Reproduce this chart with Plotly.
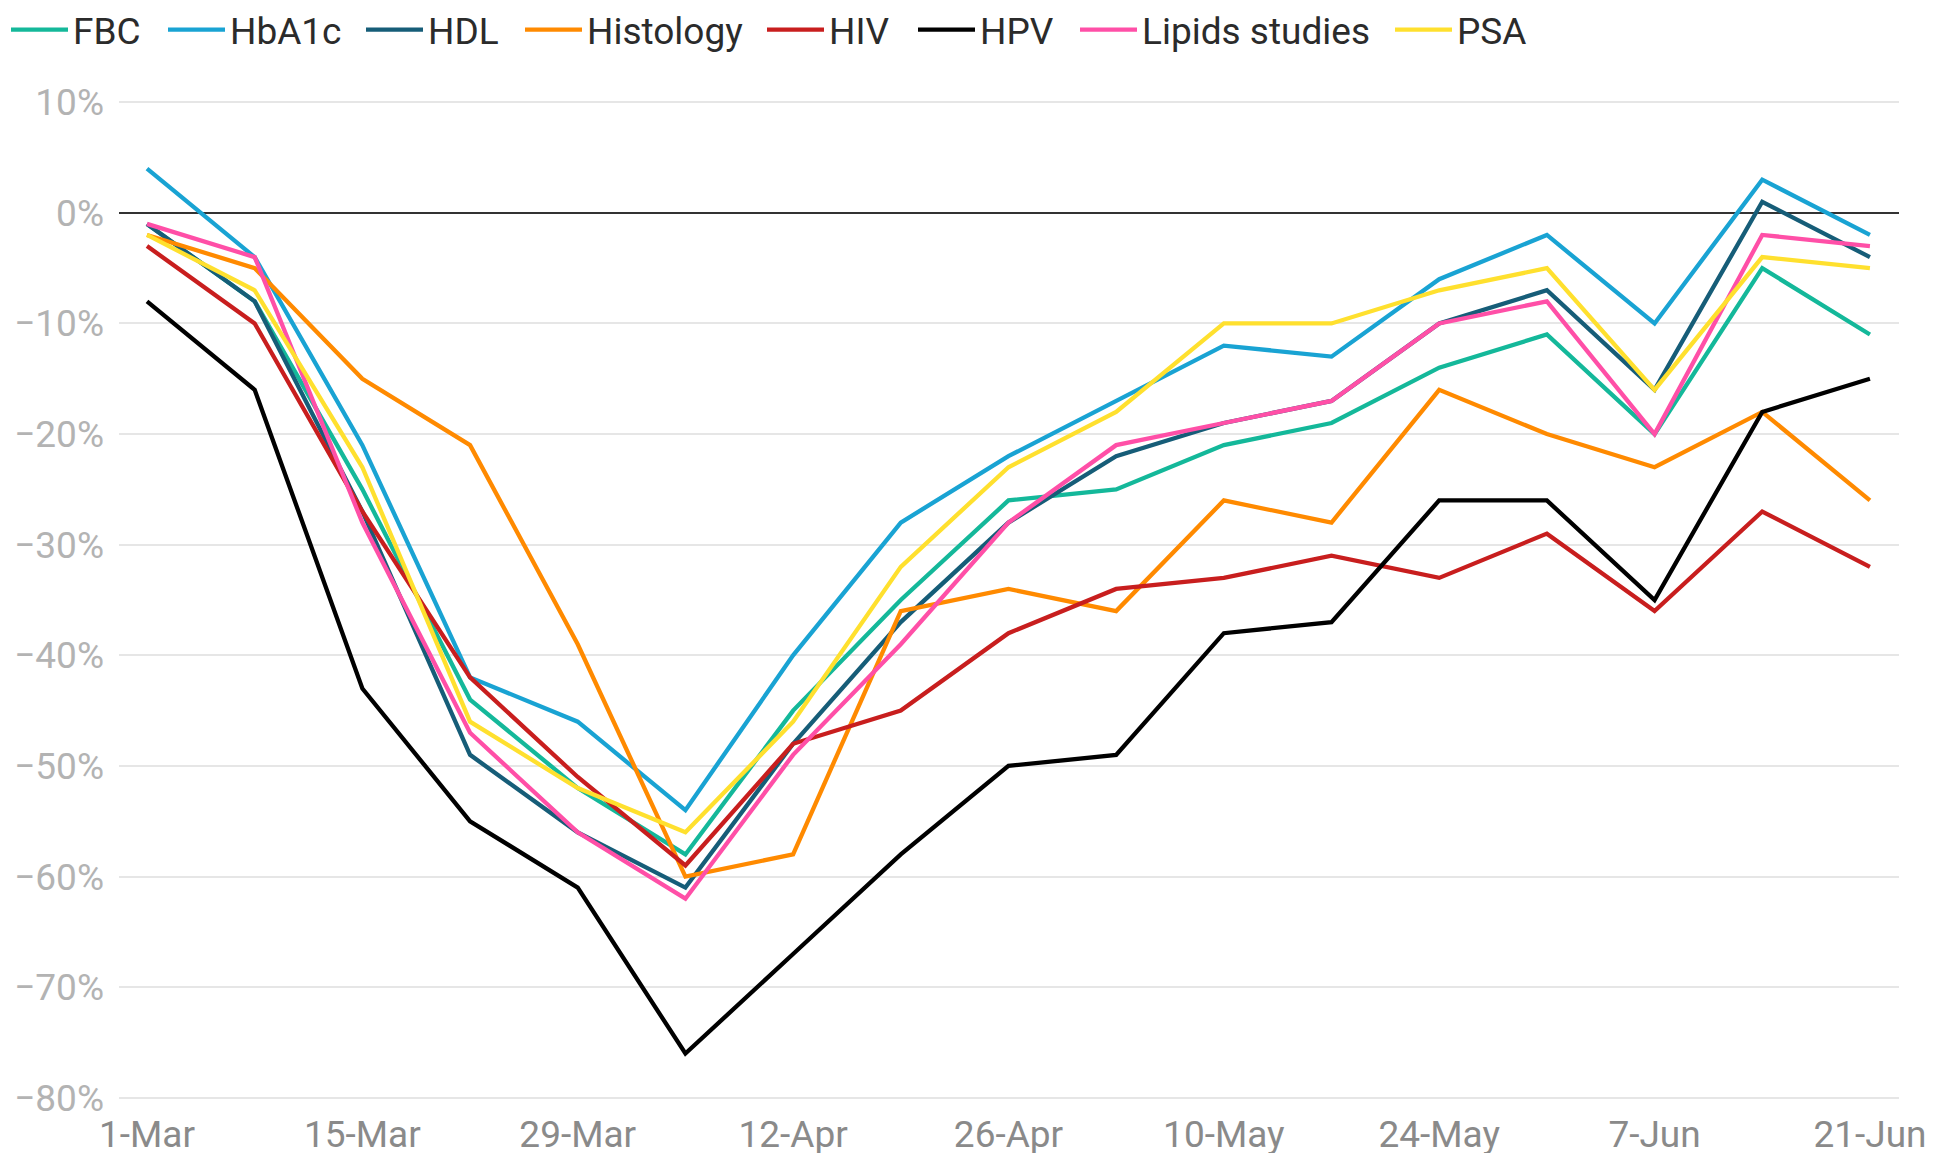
import plotly.graph_objects as go

weeks = list(range(17))
x_tick_vals = [0, 2, 4, 6, 8, 10, 12, 14, 16]
x_tick_text = ["1-Mar", "15-Mar", "29-Mar", "12-Apr", "26-Apr", "10-May", "24-May", "7-Jun", "21-Jun"]
y_tick_vals = [10, 0, -10, -20, -30, -40, -50, -60, -70, -80]
y_tick_text = ["10%", "0%", "−10%", "−20%", "−30%", "−40%", "−50%", "−60%", "−70%", "−80%"]

fbc = [-1, -8, -25, -44, -52, -58, -45, -35, -26, -25, -21, -19, -14, -11, -20, -5, -11]
hba1c = [4, -4, -21, -42, -46, -54, -40, -28, -22, -17, -12, -13, -6, -2, -10, 3, -2]
hdl = [-1, -8, -27, -49, -56, -61, -48, -37, -28, -22, -19, -17, -10, -7, -16, 1, -4]
histology = [-2, -5, -15, -21, -39, -60, -58, -36, -34, -36, -26, -28, -16, -20, -23, -18, -26]
hiv = [-3, -10, -27, -42, -51, -59, -48, -45, -38, -34, -33, -31, -33, -29, -36, -27, -32]
hpv = [-8, -16, -43, -55, -61, -76, -67, -58, -50, -49, -38, -37, -26, -26, -35, -18, -15]
lipids = [-1, -4, -28, -47, -56, -62, -49, -39, -28, -21, -19, -17, -10, -8, -20, -2, -3]
psa = [-2, -7, -23, -46, -52, -56, -46, -32, -23, -18, -10, -10, -7, -5, -16, -4, -5]

series = [
    ("FBC", fbc, "#14b89a"),
    ("HbA1c", hba1c, "#19a3d3"),
    ("HDL", hdl, "#165d78"),
    ("Histology", histology, "#ff8a00"),
    ("HIV", hiv, "#c81e1e"),
    ("HPV", hpv, "#000000"),
    ("Lipids studies", lipids, "#ff4fa7"),
    ("PSA", psa, "#ffe02e"),
]
# left edge (px) of each legend entry in the 1934-px wide page
legend_left_px = [6, 163, 361, 520, 762, 913, 1075, 1390]

W, H = 1934, 1153
fig = go.Figure()
layout_legends = {}
for i, (name, vals, color) in enumerate(series):
    lid = "legend" if i == 0 else f"legend{i + 1}"
    fig.add_trace(go.Scatter(x=weeks, y=vals, name=name, mode="lines",
                             line=dict(color=color, width=4.3), legend=lid))
    layout_legends[lid] = dict(
        orientation="h", xref="container", yref="container",
        x=legend_left_px[i] / W, y=1 - 30 / H, xanchor="left", yanchor="middle",
        font=dict(family="Roboto", size=37, color="#2b2b2b"), itemwidth=57,
        bgcolor="rgba(0,0,0,0)", borderwidth=0)

fig.update_layout(
    width=W, height=H,
    margin=dict(l=119, r=35, t=100, b=53, autoexpand=False),
    paper_bgcolor="white", plot_bgcolor="white",
    font=dict(family="Roboto", size=37, color="#333333"),
    showlegend=True,
    xaxis=dict(range=[-0.26, 16.27], tickmode="array", tickvals=x_tick_vals, ticktext=x_tick_text,
               showgrid=False, zeroline=False, showline=False, ticks="",
               tickfont=dict(size=37, color="#8a8a8a"), ticklabelstandoff=9),
    yaxis=dict(range=[-80.2, 10.2], tickmode="array", tickvals=y_tick_vals, ticktext=y_tick_text,
               showgrid=True, gridcolor="#e6e6e6", gridwidth=2,
               zeroline=True, zerolinecolor="#333333", zerolinewidth=2,
               showline=False, ticks="",
               tickfont=dict(size=37, color="#b3b3b3"), ticklabelstandoff=14),
    **layout_legends,
)

fig.write_html("out.html", config={"displayModeBar": False},
               post_script="document.body.style.margin='0';document.body.style.overflow='hidden';")
